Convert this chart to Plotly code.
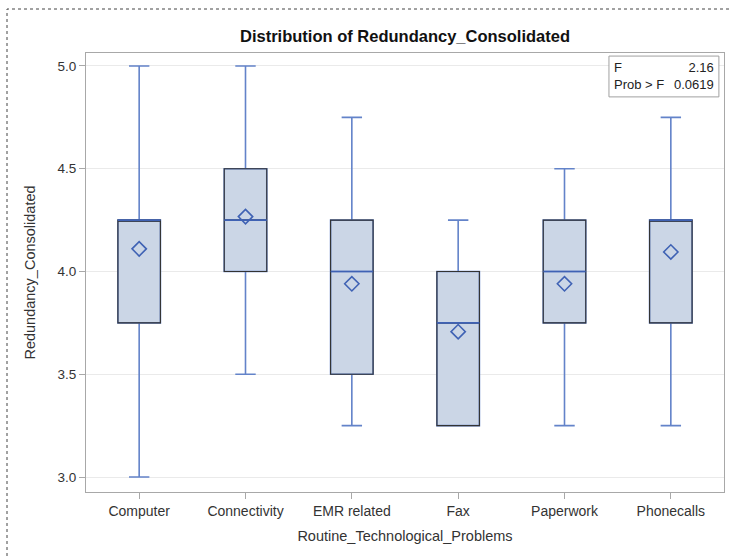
import plotly.graph_objects as go

# Summary statistics per problem category
categories = ["Computer", "Connectivity", "EMR related", "Fax", "Paperwork", "Phonecalls"]
minimum = [3.00, 3.50, 3.25, 3.25, 3.25, 3.25]
q1 = [3.75, 4.00, 3.50, 3.25, 3.75, 3.75]
median = [4.25, 4.25, 4.00, 3.75, 4.00, 4.25]
q3 = [4.25, 4.50, 4.25, 4.00, 4.25, 4.25]
maximum = [5.00, 5.00, 4.75, 4.25, 4.50, 4.75]
means = [4.11, 4.267, 3.94, 3.707, 3.94, 4.095]

f_value = "2.16"
prob_f = "0.0619"

FONT = "Arial, Liberation Sans, sans-serif"
WHISKER = "#6383C9"
MEDIAN = "#3F62B4"
FILL = "#CBD6E6"
EDGE = "#333333"

fig = go.Figure()

# Whiskers, caps and fill
fig.add_trace(go.Box(
    x=categories, q1=q1, median=median, q3=q3,
    lowerfence=minimum, upperfence=maximum,
    fillcolor=FILL, line=dict(color=WHISKER, width=1.6),
    whiskerwidth=0.48, width=0.4, boxpoints=False,
    showlegend=False, hoverinfo="skip",
))

# Dark box outline drawn over the fill
fig.add_trace(go.Box(
    x=categories, q1=q1, median=median, q3=q3,
    lowerfence=q1, upperfence=q3,
    fillcolor="rgba(0,0,0,0)", line=dict(color=EDGE, width=1.1),
    whiskerwidth=0, width=0.4, boxpoints=False,
    showlegend=False, hoverinfo="skip",
))

# Median line in blue on top of the outline
fig.add_trace(go.Box(
    x=categories, q1=median, median=median, q3=median,
    lowerfence=median, upperfence=median,
    fillcolor="rgba(0,0,0,0)", line=dict(color=MEDIAN, width=1.6),
    whiskerwidth=0, width=0.4, boxpoints=False,
    showlegend=False, hoverinfo="skip",
))

# Means as open diamonds
fig.add_trace(go.Scatter(
    x=categories, y=means, mode="markers",
    marker=dict(symbol="diamond-open", size=11, color=MEDIAN, line=dict(width=1.6, color=MEDIAN)),
    showlegend=False, hoverinfo="skip",
))

fig.update_layout(
    width=729, height=559,
    margin=dict(l=86, r=5, t=53, b=67),
    paper_bgcolor="white", plot_bgcolor="white",
    boxmode="overlay",
    font=dict(family=FONT, size=13, color="#333333"),
    title=dict(
        text="<b>Distribution of Redundancy_Consolidated</b>",
        x=(86 + 724) / 2 / 729, xanchor="center", y=1 - 36 / 559, yanchor="middle",
        font=dict(family=FONT, size=16.5, color="#111111"),
    ),
    xaxis=dict(
        title=dict(text="Routine_Technological_Problems", font=dict(size=14.5, color="#333333"), standoff=13),
        showgrid=False, ticks="outside", ticklen=6, tickcolor="#A8A8A8",
        showline=True, linecolor="#A8A8A8", linewidth=1, mirror=True,
        tickfont=dict(size=14, color="#333333"),
    ),
    yaxis=dict(
        title=dict(text="Redundancy_Consolidated", font=dict(size=14.5, color="#333333"), standoff=18),
        range=[2.927, 5.063], tickvals=[3.0, 3.5, 4.0, 4.5, 5.0], ticktext=["3.0", "3.5", "4.0", "4.5", "5.0"],
        showgrid=True, gridcolor="#EAEAEA", gridwidth=1, zeroline=False,
        ticks="outside", ticklen=6, tickcolor="#A8A8A8",
        showline=True, linecolor="#A8A8A8", linewidth=1, mirror=True,
        tickfont=dict(size=13.5, color="#333333"),
    ),
)

# F-test inset
fig.add_shape(type="rect", xref="paper", yref="paper",
              x0=0.8197, x1=0.992, y0=0.900, y1=0.993,
              line=dict(color="#A0A0A0", width=1), fillcolor="white")
fig.add_annotation(xref="paper", yref="paper", x=0.8245, y=0.9465, xanchor="left", yanchor="middle",
                   text="F<br>Prob > F", align="left", showarrow=False,
                   font=dict(size=13, color="#222222"))
fig.add_annotation(xref="paper", yref="paper", x=0.988, y=0.9465, xanchor="right", yanchor="middle",
                   text=f"{f_value}<br>{prob_f}", align="right", showarrow=False,
                   font=dict(size=13, color="#222222"))

# Dashed page border
fig.add_shape(type="rect", xref="paper", yref="paper",
              x0=(7 - 86) / 638, x1=2.0, y0=-1.0, y1=1 + (53 - 9) / 439,
              line=dict(color="#444444", width=1, dash="3px,3px"), fillcolor="rgba(0,0,0,0)",
              layer="below")

fig.write_html("out.html")
